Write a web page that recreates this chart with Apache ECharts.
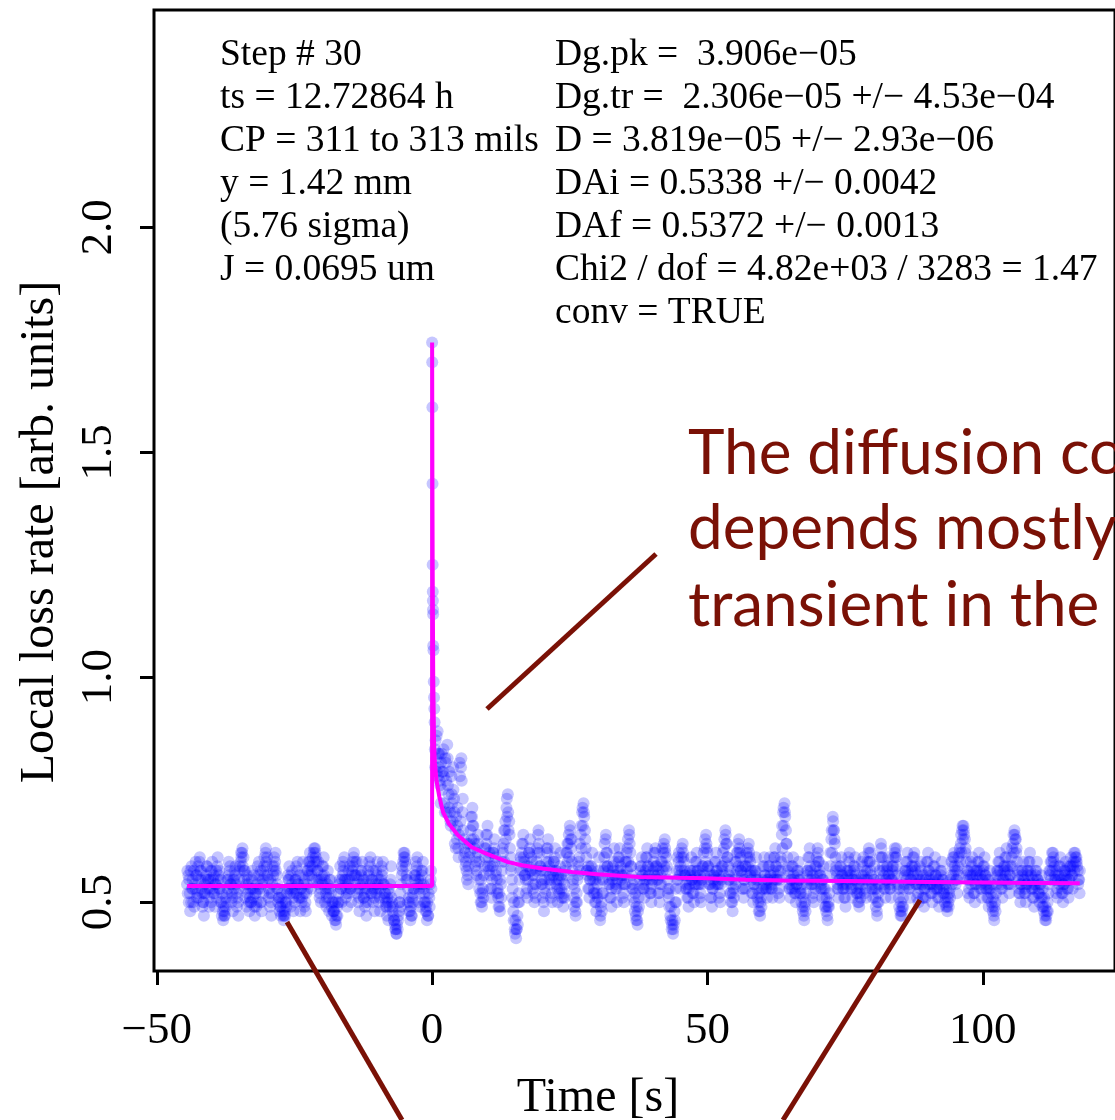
<!DOCTYPE html>
<html><head><meta charset="utf-8">
<script src="https://cdn.jsdelivr.net/npm/echarts@6/dist/echarts.min.js"></script>
<style>html,body{margin:0;padding:0;background:#fff}#c{width:1115px;height:1120px}</style>
</head><body><div id="c"></div>
<script>
// ---- data ----
const preStart = -44.5;    // first sample time before the step [s]
const postStart = 0.5;     // first sample time after the spike [s]
const sampleStep = 0.25;   // sampling interval of each layer [s]
const layerOffsets = [0, 0.125, 0.0625]; // three interleaved sample layers [s]

const preValues = [
 .54,.56,.52,.50,.55,.57,.53,.51,.58,.59,.55,.52,.50,.54,.56,.53,.51,.55,
 .57,.55,.52,.54,.58,.56,.53,.50,.48,.47,.49,.52,.55,.57,.54,.51,.53,.56,.52,.50,
 .55,.59,.61,.60,.57,.54,.52,.50,.53,.55,.51,.49,.52,.54,.56,.53,.50,.55,.58,.61,
 .58,.55,.52,.50,.54,.57,.59,.56,.53,.51,.49,.52,.47,.48,.50,.53,.55,.52,.54,.51,
 .53,.55,.57,.54,.51,.53,.56,.52,.50,.54,.57,.59,.56,.58,.61,.62,.59,.57,.55,.53,
 .56,.58,.55,.52,.54,.51,.53,.49,.50,.48,.46,.49,.52,.55,.53,.56,.58,.55,.52,.54,
 .55,.53,.57,.60,.59,.56,.53,.51,.54,.57,.55,.52,.50,.53,.56,.58,.55,.53,.51,.54,
 .56,.53,.51,.55,.57,.54,.52,.49,.50,.52,.55,.50,.47,.45,.43,.44,.48,.52,.56,.59,
 .61,.58,.55,.51,.48,.47,.50,.53,.56,.58,.55,.52,.54,.57,.53,.50,.48,.47,.51,.55
];
const preValuesB = [
 .52,.55,.57,.53,.50,.54,.56,.52,.55,.57,.53,.50,.52,.55,.58,.55,.53,.50,
 .53,.56,.54,.51,.55,.57,.55,.52,.49,.47,.50,.53,.56,.54,.52,.55,.57,.54,.51,.53,
 .57,.60,.58,.55,.53,.56,.54,.51,.50,.53,.56,.52,.50,.53,.55,.57,.54,.52,.56,.59,
 .56,.53,.55,.52,.56,.58,.57,.54,.51,.49,.51,.48,.47,.50,.52,.55,.53,.56,.53,.52,
 .55,.52,.54,.56,.53,.51,.54,.55,.52,.53,.56,.58,.57,.55,.59,.60,.57,.54,.52,.55,
 .54,.56,.53,.51,.53,.55,.52,.50,.48,.50,.47,.50,.54,.53,.55,.57,.55,.53,.55,.52,
 .53,.56,.58,.56,.54,.52,.55,.53,.56,.54,.51,.53,.55,.57,.54,.52,.55,.57,.53,.52,
 .54,.55,.53,.56,.54,.52,.50,.51,.53,.54,.51,.49,.46,.44,.45,.47,.50,.54,.57,.60,
 .59,.56,.53,.50,.49,.51,.53,.55,.57,.54,.53,.55,.56,.54,.52,.49,.50,.52,.54,.53
];
const preValuesC = [
 .57,.50,.48,.58,.53,.49,.59,.56,.51,.60,.57,.49,.47,.52,.58,.55,.49,.57,
 .59,.52,.49,.57,.60,.53,.50,.47,.46,.48,.51,.55,.59,.58,.50,.48,.55,.58,.49,.47,
 .58,.61,.62,.57,.51,.49,.55,.48,.50,.57,.53,.47,.49,.58,.59,.50,.48,.57,.60,.62,
 .60,.51,.49,.47,.58,.60,.61,.53,.50,.48,.47,.50,.46,.47,.49,.56,.58,.49,.57,.48,
 .50,.58,.59,.51,.48,.50,.59,.49,.48,.57,.59,.61,.53,.60,.62,.61,.55,.59,.51,.50,
 .58,.60,.50,.49,.57,.48,.55,.47,.48,.46,.45,.47,.50,.58,.50,.59,.60,.51,.49,.57,
 .58,.50,.59,.61,.56,.59,.50,.48,.57,.59,.51,.49,.47,.50,.59,.60,.52,.50,.48,.57,
 .59,.50,.48,.58,.59,.51,.49,.47,.46,.49,.58,.48,.46,.44,.43,.46,.50,.49,.58,.61,
 .60,.55,.50,.48,.46,.47,.52,.56,.59,.60,.50,.49,.57,.59,.50,.48,.46,.47,.49,.57
];

const spikeTimes  = [0, 0.02, 0.05, 0.08, 0.1, 0.12, 0.14, 0.16, 0.18, 0.2, 0.25, 0.3, 0.35, 0.4, 0.45];
const spikeValues = [1.744, 1.70, 1.60, 1.43, 1.25, 1.19, 1.17, 1.15, 1.14, 1.07, 1.06, 0.99, 0.955, 0.93, 0.90];

const postValues = [
 .84,.82,.88,.80,.76,.83,.79,.72,.81,.85,.74,.70,.78,.68,.73,.66,.64,.62,.81,.80,
 .70,.64,.61,.57,.56,.60,.66,.69,.67,.63,.59,.61,.55,.52,.50,.53,.58,.62,.65,.60,
 .56,.53,.58,.62,.60,.55,.51,.49,.54,.59,.63,.66,.71,.74,.68,.60,.55,.48,.44,.42,
 .47,.52,.57,.61,.63,.59,.55,.53,.58,.62,.60,.56,.52,.54,.59,.65,.61,.57,.54,.50,
 .55,.59,.62,.58,.54,.52,.56,.60,.57,.53,.55,.58,.53,.51,.54,.58,.61,.63,.67,.62,
 .57,.51,.48,.52,.56,.60,.65,.70,.72,.66,.60,.56,.53,.55,.58,.55,.52,.50,.54,.57,
 .46,.50,.55,.60,.64,.61,.57,.54,.51,.55,.59,.56,.53,.57,.60,.58,.54,.52,.56,.59,
 .62,.66,.61,.56,.53,.50,.47,.46,.51,.55,.58,.56,.53,.57,.60,.58,.55,.52,.55,.59,
 .61,.58,.55,.52,.56,.59,.61,.64,.60,.55,.51,.47,.44,.43,.48,.53,.57,.59,.56,.60,
 .63,.59,.56,.53,.51,.54,.57,.55,.52,.56,.59,.57,.54,.52,.55,.58,.62,.65,.61,.57,
 .54,.51,.53,.56,.59,.57,.54,.52,.55,.58,.62,.66,.63,.58,.55,.52,.50,.53,.56,.59,
 .61,.64,.60,.56,.53,.55,.58,.60,.63,.59,.55,.52,.54,.57,.53,.50,.48,.51,.55,.58,
 .56,.53,.55,.58,.56,.53,.57,.60,.58,.55,.53,.57,.65,.70,.72,.66,.60,.56,.53,.55,
 .58,.55,.52,.54,.57,.55,.52,.49,.47,.50,.54,.57,.60,.57,.54,.52,.55,.58,.62,.59,
 .56,.53,.55,.51,.49,.47,.50,.58,.64,.69,.66,.60,.56,.53,.55,.58,.56,.53,.51,.54,
 .57,.59,.56,.53,.55,.58,.55,.52,.50,.53,.56,.58,.55,.53,.57,.61,.59,.56,.53,.55,
 .51,.48,.52,.57,.63,.60,.56,.53,.55,.58,.56,.53,.55,.58,.62,.60,.56,.51,.48,.47,
 .51,.54,.57,.59,.56,.53,.55,.58,.60,.57,.54,.52,.55,.57,.54,.51,.53,.56,.59,.57,
 .54,.52,.55,.58,.56,.53,.51,.54,.57,.55,.52,.51,.49,.50,.53,.56,.58,.60,.57,.55,
 .58,.61,.63,.66,.67,.64,.59,.55,.53,.56,.58,.55,.52,.54,.57,.59,.56,.53,.55,.58,
 .56,.53,.51,.55,.52,.49,.47,.50,.54,.57,.59,.56,.53,.55,.58,.60,.57,.54,.56,.60,
 .63,.66,.64,.59,.55,.52,.54,.57,.55,.52,.54,.57,.59,.56,.53,.51,.54,.57,.55,.52,
 .54,.51,.49,.47,.46,.50,.54,.57,.59,.61,.58,.55,.53,.56,.58,.55,.52,.54,.57,.56,
 .53,.55,.58,.56,.59,.61,.60,.57,.55
];
const postValuesB = [
 .86,.79,.83,.77,.81,.75,.78,.82,.70,.76,.79,.67,.72,.75,.63,.69,.71,.65,.68,.77,
 .66,.62,.59,.63,.58,.61,.64,.67,.62,.60,.57,.63,.59,.55,.52,.56,.60,.63,.58,.61,
 .58,.55,.61,.59,.57,.53,.52,.55,.57,.61,.59,.64,.69,.66,.62,.58,.53,.50,.46,.44,
 .50,.55,.59,.57,.60,.56,.58,.55,.61,.57,.59,.54,.56,.57,.61,.63,.58,.55,.57,.53,
 .57,.61,.59,.56,.55,.57,.59,.57,.55,.56,.53,.56,.55,.52,.57,.56,.59,.60,.64,.59,
 .55,.53,.50,.55,.58,.57,.62,.67,.69,.62,.57,.58,.55,.57,.56,.53,.55,.52,.56,.55,
 .49,.52,.57,.58,.61,.58,.55,.56,.53,.57,.56,.54,.55,.59,.57,.56,.56,.54,.54,.57,
 .59,.63,.58,.54,.55,.52,.49,.48,.53,.57,.56,.54,.55,.55,.58,.56,.53,.54,.57,.56,
 .58,.56,.57,.54,.54,.57,.58,.61,.58,.53,.53,.49,.46,.45,.50,.55,.55,.57,.58,.57,
 .60,.57,.54,.55,.53,.56,.55,.57,.54,.54,.57,.55,.56,.54,.57,.56,.59,.62,.58,.55,
 .56,.53,.55,.54,.57,.55,.56,.54,.57,.56,.59,.63,.60,.56,.57,.54,.52,.55,.54,.57,
 .58,.61,.57,.58,.55,.53,.56,.58,.60,.57,.57,.54,.56,.55,.55,.52,.50,.53,.53,.56,
 .54,.55,.53,.56,.54,.55,.55,.58,.56,.57,.55,.59,.62,.67,.69,.63,.58,.54,.55,.53,
 .56,.53,.54,.56,.55,.53,.54,.51,.49,.52,.56,.55,.58,.55,.56,.54,.53,.56,.59,.57,
 .54,.55,.53,.53,.51,.49,.52,.56,.61,.66,.63,.58,.54,.55,.57,.56,.54,.55,.53,.56,
 .55,.57,.54,.55,.57,.56,.53,.54,.52,.55,.54,.56,.57,.55,.55,.59,.57,.54,.55,.53,
 .53,.50,.54,.55,.60,.58,.54,.55,.57,.56,.54,.55,.57,.56,.60,.58,.54,.53,.50,.49,
 .53,.56,.55,.57,.54,.55,.57,.56,.58,.55,.56,.54,.53,.55,.56,.53,.55,.54,.57,.55,
 .56,.54,.53,.56,.54,.55,.53,.56,.55,.53,.54,.53,.51,.52,.55,.54,.56,.58,.55,.57,
 .56,.59,.61,.64,.65,.62,.57,.57,.55,.54,.56,.57,.54,.56,.55,.57,.54,.55,.57,.56,
 .54,.55,.53,.53,.54,.51,.49,.52,.56,.55,.57,.54,.55,.57,.56,.58,.55,.56,.54,.58,
 .61,.64,.62,.57,.53,.54,.56,.55,.53,.54,.56,.55,.57,.54,.55,.53,.56,.55,.53,.54,
 .56,.53,.51,.49,.48,.52,.56,.55,.57,.59,.56,.57,.55,.54,.56,.53,.54,.56,.55,.58,
 .55,.57,.56,.58,.57,.59,.58,.55,.57
];
const postValuesC = [
 .80,.87,.78,.83,.72,.79,.84,.70,.77,.82,.71,.68,.74,.80,.70,.62,.67,.60,.78,.82,
 .73,.60,.58,.55,.54,.63,.69,.71,.64,.58,.56,.65,.53,.50,.49,.51,.62,.65,.67,.57,
 .53,.51,.61,.64,.56,.52,.49,.48,.51,.62,.66,.68,.73,.70,.65,.57,.51,.46,.43,.44,
 .45,.50,.60,.63,.65,.56,.52,.51,.61,.64,.57,.53,.50,.51,.62,.66,.58,.54,.51,.48,
 .52,.62,.64,.55,.51,.50,.59,.62,.54,.50,.52,.61,.51,.49,.51,.61,.63,.65,.66,.64,
 .54,.49,.47,.50,.59,.63,.67,.71,.70,.64,.57,.53,.51,.58,.61,.52,.50,.48,.51,.60,
 .47,.48,.52,.63,.65,.58,.54,.51,.49,.58,.62,.53,.50,.60,.62,.55,.51,.50,.59,.61,
 .64,.65,.58,.53,.51,.48,.46,.45,.49,.58,.60,.53,.51,.60,.62,.56,.52,.50,.58,.61,
 .62,.55,.52,.50,.59,.62,.63,.62,.57,.52,.49,.46,.45,.44,.46,.50,.60,.61,.53,.62,
 .61,.56,.53,.51,.49,.57,.60,.52,.50,.59,.61,.54,.51,.50,.58,.61,.64,.63,.58,.54,
 .51,.49,.56,.59,.61,.54,.51,.50,.58,.61,.64,.65,.60,.55,.52,.50,.48,.51,.59,.61,
 .63,.62,.57,.53,.51,.58,.61,.62,.61,.56,.52,.50,.57,.60,.51,.48,.47,.49,.58,.60,
 .53,.51,.58,.60,.53,.51,.60,.62,.55,.52,.51,.60,.67,.71,.70,.63,.57,.53,.51,.58,
 .60,.52,.50,.57,.59,.52,.50,.48,.46,.48,.57,.60,.62,.54,.51,.50,.58,.60,.61,.56,
 .53,.51,.58,.49,.48,.46,.49,.61,.66,.68,.64,.57,.53,.51,.58,.60,.53,.51,.49,.57,
 .60,.61,.53,.51,.58,.60,.52,.50,.49,.51,.59,.60,.52,.51,.59,.62,.61,.53,.51,.58,
 .49,.47,.50,.60,.62,.57,.53,.51,.58,.60,.53,.51,.58,.60,.61,.62,.53,.49,.47,.48,
 .49,.57,.59,.61,.53,.51,.58,.60,.61,.54,.51,.50,.58,.59,.51,.49,.51,.59,.61,.54,
 .52,.50,.58,.60,.53,.51,.49,.57,.59,.52,.50,.49,.48,.49,.51,.59,.60,.61,.54,.52,
 .60,.62,.65,.67,.66,.61,.56,.52,.51,.59,.60,.52,.50,.57,.59,.61,.53,.51,.58,.60,
 .53,.51,.49,.57,.50,.48,.46,.48,.57,.59,.61,.53,.51,.58,.60,.62,.54,.52,.58,.62,
 .65,.65,.61,.56,.52,.50,.57,.59,.52,.50,.57,.59,.61,.53,.51,.49,.57,.59,.52,.50,
 .51,.49,.48,.46,.47,.48,.57,.59,.61,.60,.55,.52,.51,.58,.60,.52,.50,.57,.59,.53,
 .51,.58,.60,.53,.61,.60,.59,.54,.52
];

const fitTimes  = [-44.5, 0, 0, 0.05, 0.1, 0.2, 0.36, 0.5, 0.8, 1.3, 2, 3, 4.7, 7.2, 9.6, 13.8, 16.3, 20, 25.4, 30, 37.5, 45, 49.6, 57, 64, 75, 90, 105, 117.6];
const fitValues = [0.536, 0.536, 1.744, 1.45, 1.25, 1.0, 0.85, 0.81, 0.77, 0.735, 0.70, 0.675, 0.649, 0.622, 0.609, 0.589, 0.582, 0.575, 0.567, 0.562, 0.556, 0.554, 0.553, 0.550, 0.548, 0.547, 0.545, 0.543, 0.542];

const xTickValues = [-50, 0, 50, 100];
const yTickValues = [0.5, 1.0, 1.5, 2.0];

const infoLeft = ['Step # 30', 'ts = 12.72864 h', 'CP = 311 to 313 mils', 'y = 1.42 mm', '(5.76 sigma)', 'J = 0.0695 um'];
const infoRight = ['Dg.pk =  3.906e\u221205', 'Dg.tr =  2.306e\u221205 +/\u2212 4.53e\u221204', 'D = 3.819e\u221205 +/\u2212 2.93e\u221206',
  'DAi = 0.5338 +/\u2212 0.0042', 'DAf = 0.5372 +/\u2212 0.0013', 'Chi2 / dof = 4.82e+03 / 3283 = 1.47', 'conv = TRUE'];
const noteLines = ['The diffusion co', 'depends mostly', 'transient in the'];
const xTitle = 'Time [s]';
const yTitle = 'Local loss rate [arb. units]';

// ---- build ----
const points = [];
[[preValues, preValuesB, preValuesC], [postValues, postValuesB, postValuesC]].forEach((layers, seg) => {
  const t0 = seg === 0 ? preStart : postStart;
  layers.forEach((arr, k) => arr.forEach((v, i) => points.push([t0 + layerOffsets[k] + i * sampleStep, v])));
  if (seg === 0) spikeTimes.forEach((t, i) => points.push([t, spikeValues[i]]));
});
const fit = fitTimes.map((t, i) => [t, fitValues[i]]);

const serif = 'Liberation Serif';
const noteColor = '#7a1106';
const graphics = [];
infoLeft.forEach((s, i) => graphics.push({type:'text', left:220, top:53 + 43*i - 17, style:{text:s, font:'37.5px "Liberation Serif"', fill:'#000'}}));
infoRight.forEach((s, i) => graphics.push({type:'text', left:555, top:53 + 43*i - 17, style:{text:s, font:'37.5px "Liberation Serif"', fill:'#000'}}));
noteLines.forEach((s, i) => graphics.push({type:'text', left:688, top:[423,498,575][i], style:{text:s, font:'62px Lato', fill:noteColor}}));
graphics.push({type:'text', x:598, y:1098, style:{text:xTitle, font:'48px "Liberation Serif"', fill:'#000', align:'center', verticalAlign:'middle'}});
graphics.push({type:'text', x:40, y:532, rotation:Math.PI/2, style:{text:yTitle, font:'48px "Liberation Serif"', fill:'#000', align:'center', verticalAlign:'middle'}});
[[487,709,656,554],[287,922,402,1120],[920,900,783,1120]].forEach(l => graphics.push({type:'line', shape:{x1:l[0],y1:l[1],x2:l[2],y2:l[3]}, style:{stroke:noteColor, lineWidth:5}, z:100}));

const chart = echarts.init(document.getElementById('c'), null, {renderer:'canvas'});
chart.setOption({
  animation:false,
  backgroundColor:'#fff',
  grid:{left:154, top:10, width:964, height:961, show:true, borderColor:'#000', borderWidth:3, backgroundColor:'transparent'},
  xAxis:{type:'value', min:-50.5, max:124,
    axisLine:{show:false, onZero:false}, splitLine:{show:false},
    axisTick:{show:true, length:14, lineStyle:{color:'#000', width:3}, customValues:xTickValues},
    axisLabel:{show:true, customValues:xTickValues, margin:38, fontFamily:serif, fontSize:45, color:'#000',
      formatter:v => (v < 0 ? '\u2212' + Math.abs(v) : String(v))}},
  yAxis:{type:'value', min:0.347, max:2.483,
    axisLine:{show:false, onZero:false}, splitLine:{show:false},
    axisTick:{show:true, length:14, lineStyle:{color:'#000', width:3}, customValues:yTickValues},
    axisLabel:{show:true, customValues:yTickValues, margin:32, rotate:90, fontFamily:serif, fontSize:45, color:'#000',
      formatter:v => v.toFixed(1)}},
  series:[
    {type:'scatter', data:points, symbolSize:12, large:false, itemStyle:{color:'rgba(0,0,255,0.28)'}, z:2, silent:true},
    {type:'line', data:fit, showSymbol:false, symbol:'none', lineStyle:{color:'#ff00ff', width:4}, z:3, silent:true}
  ],
  graphic:graphics
});
</script></body></html>
